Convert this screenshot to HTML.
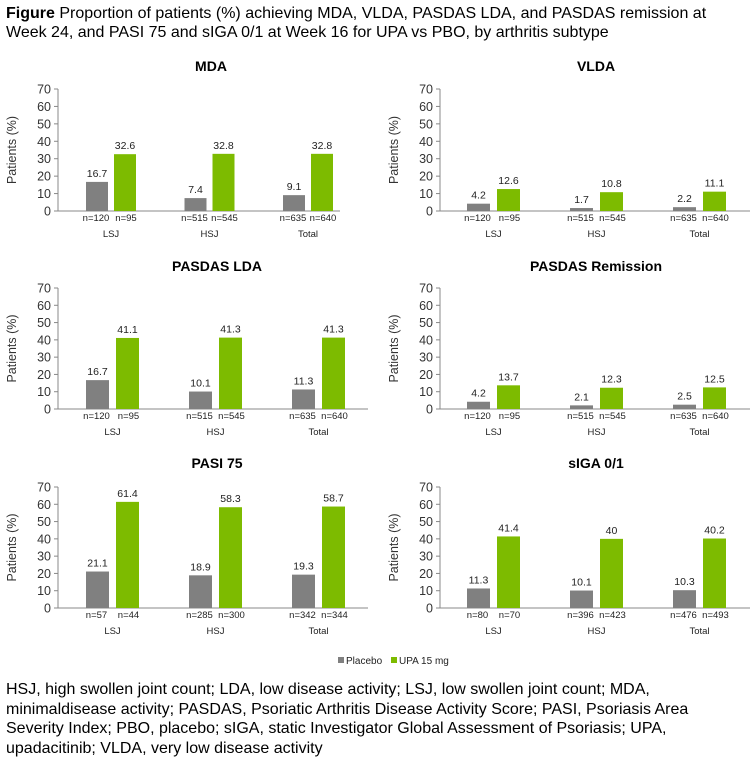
<!DOCTYPE html>
<html><head><meta charset="utf-8">
<style>
body{margin:0;background:#fff;width:756px;height:751px;overflow:hidden;font-family:"Liberation Sans",Arial,sans-serif;}
#hdr{position:absolute;left:6px;top:4px;font-size:16px;line-height:19px;color:#000;}
#foot{position:absolute;left:6px;top:680px;font-size:16px;line-height:19.5px;color:#000;white-space:nowrap;}
svg{position:absolute;left:0;top:0;}
</style></head>
<body>
<div id="hdr"><b>Figure</b> Proportion of patients (%) achieving MDA, VLDA, PASDAS LDA, and PASDAS remission at<br>Week 24, and PASI 75 and sIGA 0/1 at Week 16 for UPA vs PBO, by arthritis subtype</div>
<svg id="chart" width="756" height="751"></svg>
<div id="foot">HSJ, high swollen joint count; LDA, low disease activity; LSJ, low swollen joint count; MDA,<br>minimaldisease activity; PASDAS, Psoriatic Arthritis Disease Activity Score; PASI, Psoriasis Area<br>Severity Index; PBO, placebo; sIGA, static Investigator Global Assessment of Psoriasis; UPA,<br>upadacitinib; VLDA, very low disease activity</div>
<script>
const categories = ["LSJ","HSJ","Total"];
const yTicks = [0,10,20,30,40,50,60,70];
const panelTitles = ["MDA","VLDA","PASDAS  LDA","PASDAS Remission","PASI 75","sIGA 0/1"];
const placeboValues = [[16.7,7.4,9.1],[4.2,1.7,2.2],[16.7,10.1,11.3],[4.2,2.1,2.5],[21.1,18.9,19.3],[11.3,10.1,10.3]];
const upaValues = [[32.6,32.8,32.8],[12.6,10.8,11.1],[41.1,41.3,41.3],[13.7,12.3,12.5],[61.4,58.3,58.7],[41.4,40,40.2]];
const placeboN = [["120","515","635"],["120","515","635"],["120","515","635"],["120","515","635"],["57","285","342"],["80","396","476"]];
const upaN = [["95","545","640"],["95","545","640"],["95","545","640"],["95","545","640"],["44","300","344"],["70","423","493"]];

const NS="http://www.w3.org/2000/svg";
const svg=document.getElementById('chart');
function mk(t,a,txt){const e=document.createElementNS(NS,t);for(const k in a)e.setAttribute(k,a[k]);if(txt!==undefined)e.textContent=txt;svg.appendChild(e);return e;}
const layouts=[
 {x0:58,xEnd:340,c0:111,sp:98.5,bw:22,gap:6,top:89,bot:211,tx:211,ty:66},
 {x0:440,xEnd:750,c0:493.5,sp:103,bw:23,gap:7,top:89,bot:211,tx:596,ty:66},
 {x0:58,xEnd:368,c0:112.5,sp:103,bw:23,gap:7,top:288,bot:409,tx:217,ty:266},
 {x0:440,xEnd:750,c0:493.5,sp:103,bw:23,gap:7,top:288,bot:409,tx:596,ty:266},
 {x0:58,xEnd:368,c0:112.5,sp:103,bw:23,gap:7,top:487,bot:608,tx:217,ty:463},
 {x0:440,xEnd:750,c0:493.5,sp:103,bw:23,gap:7,top:487,bot:608,tx:596,ty:463}
];
layouts.forEach((L,p)=>{
  const y=v=>L.bot-(v/70)*(L.bot-L.top);
  const xc=i=>L.c0+i*L.sp;
  let e=mk('text',{x:L.tx,y:L.ty+5,'text-anchor':'middle','font-size':14,'font-weight':'bold',fill:'#000'},panelTitles[p]);
  
  
  e=mk('line',{x1:L.x0,y1:L.top,x2:L.x0,y2:L.bot,stroke:'#888','stroke-width':1});
  
  
  e=mk('line',{x1:L.x0,y1:L.bot,x2:L.xEnd,y2:L.bot,stroke:'#888','stroke-width':1});
  
  
  yTicks.forEach(t=>{
    e=mk('line',{x1:L.x0-4,y1:y(t),x2:L.x0,y2:y(t),stroke:'#888'});
    
    
    e=mk('text',{x:L.x0-7,y:y(t)+4.5,'text-anchor':'end','font-size':12.5,fill:'#333'},t);
    
    
  });
  const ym=(L.top+L.bot)/2;
  const yx=L.x0-42;
  e=mk('text',{x:yx,y:ym,'text-anchor':'middle','font-size':12.5,fill:'#333',transform:`rotate(-90 ${yx} ${ym})`},'Patients (%)');
  
  
  categories.forEach((c,i)=>{
    const cx=xc(i);
    const xp=cx-L.gap/2-L.bw, xu=cx+L.gap/2;
    const vp=placeboValues[p][i], vu=upaValues[p][i];
    e=mk('rect',{x:xp,y:y(vp),width:L.bw,height:L.bot-y(vp),fill:'#808080'});
    
    
    e=mk('rect',{x:xu,y:y(vu),width:L.bw,height:L.bot-y(vu),fill:'#7dbb00'});
    
    
    e=mk('text',{x:xp+L.bw/2,y:y(vp)-5,'text-anchor':'middle','font-size':10.5,fill:'#222'},vp);
    
    
    e=mk('text',{x:xu+L.bw/2,y:y(vu)-5,'text-anchor':'middle','font-size':10.5,fill:'#222'},vu);
    
    
    e=mk('text',{x:xp+L.bw/2-1,y:L.bot+10,'text-anchor':'middle','font-size':9.5,fill:'#222'},'n='+placeboN[p][i]);
    
    
    e=mk('text',{x:xu+L.bw/2+1,y:L.bot+10,'text-anchor':'middle','font-size':9.5,fill:'#222'},'n='+upaN[p][i]);
    
    
    e=mk('text',{x:cx,y:L.bot+26,'text-anchor':'middle','font-size':9.5,fill:'#222'},c);
    
    
  });
});
let e=mk('rect',{x:338,y:657,width:6,height:6,fill:'#808080'});


e=mk('text',{x:346,y:664,'font-size':10,fill:'#222'},'Placebo');


e=mk('rect',{x:391,y:657,width:6,height:6,fill:'#7dbb00'});


e=mk('text',{x:399,y:664,'font-size':10,fill:'#222'},'UPA 15 mg');


</script>
</body></html>
